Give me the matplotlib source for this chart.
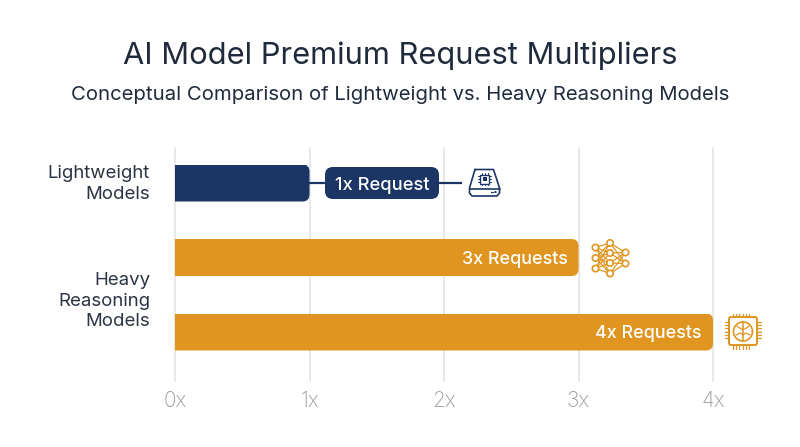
import numpy as np
import matplotlib
matplotlib.use("Agg")
import matplotlib.pyplot as plt
from matplotlib.patches import FancyBboxPatch, Circle, Rectangle
from matplotlib.path import Path

title = "AI Model Premium Request Multipliers"
subtitle = "Conceptual Comparison of Lightweight vs. Heavy Reasoning Models"
bar_names = ["Lightweight", "Heavy A", "Heavy B"]
multipliers = [1, 3, 4]
bar_labels = ["1x Request", "3x Requests", "4x Requests"]
x_ticks = [0, 1, 2, 3, 4]
x_labels = ["0x", "1x", "2x", "3x", "4x"]
group_labels = ["Lightweight\nModels", "Heavy\nReasoning\nModels"]
NAVY = "#1b3664"
AMBER = "#e09520"
colors = [NAVY, AMBER, AMBER]
GRID = "#e2e2e2"

plt.rcParams["font.family"] = ["Inter", "DejaVu Sans"]
W, H = 800, 447
fig = plt.figure(figsize=(W / 100, H / 100), dpi=100, facecolor="white")

# main axes: x0 at px175, unit = 134.5px; rows spaced 74.5px
L, R, T, B = 175, 775, 148, 381
ax = fig.add_axes([L / W, 1 - B / H, (R - L) / W, (B - T) / H], facecolor="none", zorder=2)
ax.set_xlim(0, (R - L) / 134.5)
ypos = np.arange(3)
ax.set_ylim((B - 183) / 74.5, (T - 183) / 74.5)
ax.axis("off")
px_x = 134.5
px_y = 74.5

for t in x_ticks:
    ax.plot([t, t], [ax.get_ylim()[0], ax.get_ylim()[1]], color=GRID, lw=1.1, zorder=1, clip_on=False)
    ax.annotate(x_labels[t], (t, ax.get_ylim()[0]), xytext=(0, -14.5), textcoords="offset points",
                ha="center", va="center", fontsize=15, color="#9c9c9c", fontweight="light",
                annotation_clip=False)

bar_h = 37 / px_y
bars = ax.barh(ypos, multipliers, height=bar_h, color=colors, lw=0, zorder=2)


def rounded_right(v, y, h, r=7):
    rx, ry = r / px_x, r / px_y
    top, bot = y - h / 2, y + h / 2
    verts = [(0, top), (v - rx, top), (v, top), (v, top + ry), (v, bot - ry), (v, bot), (v - rx, bot), (0, bot), (0, top)]
    codes = [Path.MOVETO, Path.LINETO, Path.CURVE3, Path.CURVE3, Path.LINETO, Path.CURVE3, Path.CURVE3, Path.LINETO, Path.CLOSEPOLY]
    return Path(verts, codes)


for b, v, y in zip(bars, multipliers, ypos):
    b.set_clip_path(rounded_right(v, y, bar_h), ax.transData)

# connector and pill label for the first bar
ax.plot([multipliers[0], 1.12], [ypos[0], ypos[0]], color=NAVY, lw=1.6, zorder=1.5)
ax.plot([1.96, 2.126], [ypos[0], ypos[0]], color=NAVY, lw=1.6, zorder=1.5)
ax.text(1.54, ypos[0], bar_labels[0], ha="center", va="center_baseline", color="white",
        fontsize=13.2, fontweight="medium", zorder=4)

# inside labels
for i in (1, 2):
    ax.annotate(bar_labels[i], (multipliers[i], ypos[i]), xytext=(-8, 0), textcoords="offset points",
                ha="right", va="center_baseline", color="white", fontsize=12.9, fontweight="medium", zorder=4)

# underlay in pixel units for text, pill and icons
ov = fig.add_axes([0, 0, 1, 1], facecolor="none", zorder=1)
ov.set_xlim(0, W)
ov.set_ylim(H, 0)
ov.axis("off")

ov.text(400, 55.5, title, ha="center", va="center", fontsize=22.2, color="#1f2a3c")
ov.text(400, 95, subtitle, ha="center", va="center", fontsize=14.6, color="#1f2a3c")

ov.text(150, 184, group_labels[0], ha="right", va="center", fontsize=13.4, color="#2b3444", linespacing=1.3)
ov.text(150, 301, group_labels[1], ha="right", va="center", fontsize=13.4, color="#2b3444", linespacing=1.3)

ov.add_patch(FancyBboxPatch((332, 174), 100, 18, boxstyle="round,pad=7,rounding_size=8",
                            fc=NAVY, ec="none", zorder=3))


def seg(xs, ys, c, lw=1.2):
    ov.plot(xs, ys, color=c, lw=lw, solid_capstyle="round", solid_joinstyle="round")


# drive icon
seg([475, 469.5, 469.5, 472, 497, 499.5, 499.5, 493.5, 475], [169.5, 188, 193, 196, 196, 193, 188, 169.5, 169.5], NAVY)
seg([469.5, 499.5], [188.5, 188.5], NAVY)
ov.add_patch(Rectangle((480, 174.5), 9, 9, fc="none", ec=NAVY, lw=1))
ov.add_patch(Rectangle((482.5, 177), 4, 4, fc=NAVY, ec="none"))
for d in (0, 3, 6):
    seg([481.5 + d, 481.5 + d], [172.8, 174.5], NAVY, .7)
    seg([481.5 + d, 481.5 + d], [183.5, 185.2], NAVY, .7)
    seg([478.3, 480], [176 + d, 176 + d], NAVY, .7)
    seg([489, 490.7], [176 + d, 176 + d], NAVY, .7)
seg([491, 493], [192, 192], NAVY, .9)
ov.add_patch(Circle((495.5, 192), 1.1, fc=NAVY, ec="none"))

# neural network icon
layers = [[(595.5, 247.5), (595.5, 258), (595.5, 268.5)],
          [(610, 243), (610, 253), (610, 263), (610, 273.5)],
          [(625.5, 252.5), (625.5, 263.5)]]
for a, b in zip(layers[:-1], layers[1:]):
    for p in a:
        for q in b:
            seg([p[0], q[0]], [p[1], q[1]], AMBER, .9)
for lay in layers:
    for p in lay:
        ov.add_patch(Circle(p, 3.2, fc="white", ec=AMBER, lw=1.2, zorder=3))

# brain chip icon
ov.add_patch(FancyBboxPatch((729, 317), 28, 28, boxstyle="round,pad=0,rounding_size=2", fc="white", ec=AMBER, lw=1.4))
for d in np.arange(0, 24, 4):
    seg([733 + d * .8, 733 + d * .8], [313.5, 317], AMBER, .9)
    seg([733 + d * .8, 733 + d * .8], [345, 349], AMBER, .9)
    seg([725, 729], [322 + d * .8, 322 + d * .8], AMBER, .9)
    seg([757, 761], [322 + d * .8, 322 + d * .8], AMBER, .9)
seg([743, 743], [322, 341], AMBER, 1.1)
t = np.linspace(0, 2 * np.pi, 60)
seg(743 + 9.5 * np.cos(t), 331.5 + 9.5 * np.sin(t), AMBER, 1.2)
seg([737, 741, 743], [326, 329, 329], AMBER, .9)
seg([749, 745, 743], [326, 329, 329], AMBER, .9)
seg([736, 740, 743], [335, 333, 335], AMBER, .9)
seg([750, 746, 743], [335, 333, 335], AMBER, .9)

fig.savefig("out.png", dpi=100, facecolor="white")
